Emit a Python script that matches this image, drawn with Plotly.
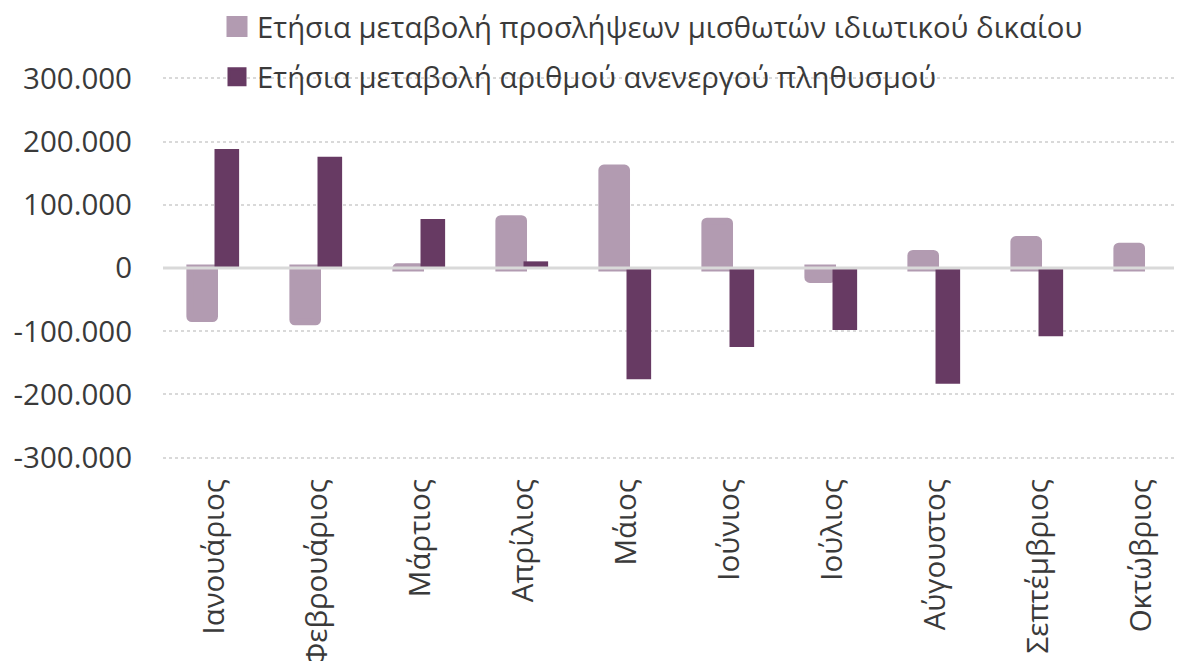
import plotly.graph_objects as go

months = ["Ιανουάριος", "Φεβρουάριος", "Μάρτιος", "Απρίλιος", "Μάιος",
          "Ιούνιος", "Ιούλιος", "Αύγουστος", "Σεπτέμβριος", "Οκτώβριος"]
hires = [-80000, -85000, 2000, 78000, 158000, 74000, -18000, 23000, 45000, 34500]
unemployed = [188000, 176000, 77500, 10500, -176000, -125000, -98000, -183000, -108000, None]
name_hires = "Ετήσια μεταβολή προσλήψεων μισθωτών ιδιωτικού δικαίου"
name_unemp = "Ετήσια μεταβολή αριθμού ανενεργού πληθυσμού"
tick_vals = [-300000, -200000, -100000, 0, 100000, 200000, 300000]
tick_text = ["-300.000", "-200.000", "-100.000", "0", "100.000", "200.000", "300.000"]

LIGHT = "#b29bb1"
DARK = "#673a63"
TXT = "#3a3a3a"
FONT = "Open Sans"

W, H = 1174, 653  # page body has an 8px margin
ML, MT, MB = 155, 69, 202
PW, PH = W - ML, H - MT - MB

fig = go.Figure()
fig.add_trace(go.Bar(x=months, y=hires, name=name_hires, showlegend=False,
                     marker=dict(color=LIGHT, line=dict(color=LIGHT, width=7), cornerradius=2)))
fig.add_trace(go.Bar(x=months, y=unemployed, name=name_unemp, showlegend=False,
                     marker=dict(color=DARK, line=dict(width=0))))
# legend entries
fig.add_trace(go.Scatter(x=[None], y=[None], mode="markers", name=name_hires, legendgroup="a",
                         marker=dict(symbol="square", size=16, color=LIGHT, line=dict(color=LIGHT, width=9))))
fig.add_trace(go.Scatter(x=[None], y=[None], mode="markers", name=name_unemp, legendgroup="b",
                         marker=dict(symbol="square", size=16, color=DARK, line=dict(color=DARK, width=3))))

fig.add_shape(type="line", xref="paper", yref="y", x0=0, x1=1, y0=0, y1=0,
              line=dict(color="#d9d9d9", width=3), layer="above")

fig.update_layout(
    width=W, height=H,
    margin=dict(l=ML, r=0, t=MT, b=MB, autoexpand=False),
    paper_bgcolor="white", plot_bgcolor="white",
    barmode="group", bargap=0.522, bargroupgap=0,
    font=dict(family=FONT, size=29, color=TXT),
    separators=",.",
    legend=dict(x=(209 - ML) / PW, y=1 + (MT + 7) / PH, xref="paper", yref="paper",
                xanchor="left", yanchor="top",
                orientation="v", bgcolor="rgba(0,0,0,0)", tracegroupgap=9,
                itemsizing="trace", font=dict(family=FONT, size=29.3, color=TXT)),
    showlegend=True,
)
fig.update_xaxes(range=[-0.5, 9.393], tickangle=-90, ticks="", showgrid=False, zeroline=False,
                 showline=False, ticklabelstandoff=13, tickfont=dict(family=FONT, size=29.5, color=TXT))
fig.update_yaxes(range=[-302000, 302000], tickvals=tick_vals, ticktext=tick_text, ticks="",
                 showgrid=True, gridcolor="#d9d9d9", gridwidth=2, griddash="dot",
                 zeroline=False, showline=False, ticklabelstandoff=30,
                 tickfont=dict(family=FONT, size=29.5, color=TXT))

fig.write_html("out.html")
